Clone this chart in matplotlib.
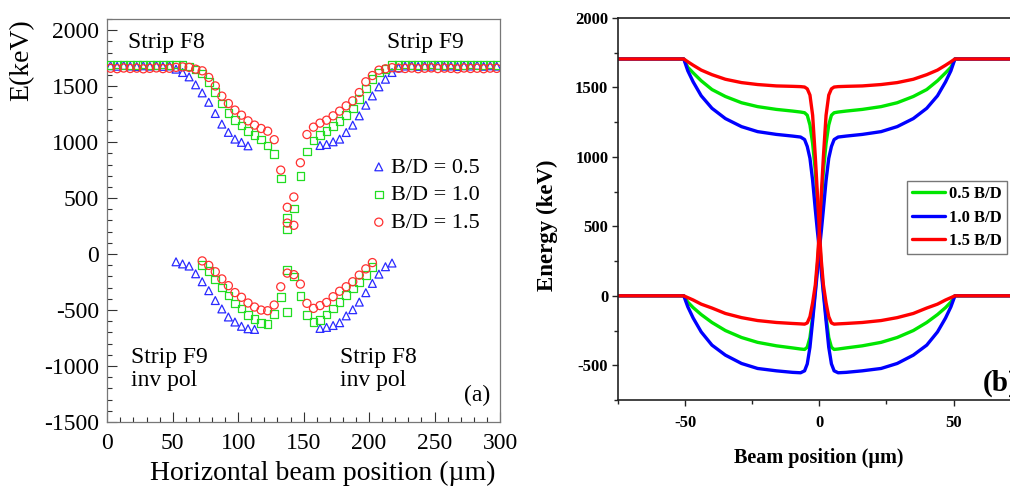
import numpy as np
import matplotlib
matplotlib.use("Agg")
import matplotlib.pyplot as plt
from matplotlib.ticker import MultipleLocator

plt.rcParams["axes.unicode_minus"] = False

# ---------------- panel (a): measured energies, markers every 5 um ----------------
flat_left = [2.5, 7.5, 12.5, 17.5, 22.5, 27.5, 32.5, 37.5, 42.5, 47.5]
flat_right = [227.5, 232.5, 237.5, 242.5, 247.5, 252.5, 257.5, 262.5, 267.5, 272.5,
              277.5, 282.5, 287.5, 292.5, 297.5]

# B/D = 0.5 (blue triangles)
tri_up_x = flat_left + [52.5, 57.5, 62.5, 67.5, 72.5, 77.5, 82.5, 87.5, 92.5, 97.5, 102.5, 107.5,
                        162.5, 167.5, 172.5, 177.5, 182.5, 187.5, 192.5, 197.5, 202.5, 207.5,
                        212.5, 217.5, 222.5] + flat_right
tri_up_y = [1683, 1678, 1685, 1680, 1676, 1682, 1679, 1684, 1677, 1681,
            1652, 1622, 1583, 1512, 1440, 1356, 1256, 1161, 1087, 1027, 998, 967,
            970, 979, 1003, 1027, 1086, 1152, 1235, 1330, 1413, 1494, 1562, 1622, 1664,
            1680, 1684, 1677, 1682, 1679, 1685, 1678, 1681, 1676, 1683, 1680, 1686, 1678, 1682, 1679]
tri_lo_x = [52.5, 57.5, 62.5, 67.5, 72.5, 77.5, 82.5, 87.5, 92.5, 97.5, 102.5, 107.5, 112.5,
            162.5, 167.5, 172.5, 177.5, 182.5, 187.5, 192.5, 197.5, 202.5, 207.5, 212.5, 217.5]
tri_lo_y = [-69, -88, -107, -176, -247, -327, -415, -490, -562, -607, -645, -667, -673,
            -664, -655, -638, -613, -552, -497, -429, -345, -262, -179, -113, -80]

# B/D = 1.0 (green squares)
sq_up_x = flat_left + [52.5, 57.5, 62.5, 67.5, 72.5, 77.5, 82.5, 87.5, 92.5, 97.5, 102.5, 107.5,
                       112.5, 117.5, 122.5, 127.5, 132.5, 137.5, 137.5, 142.5, 147.5, 152.5, 157.5,
                       162.5, 167.5, 172.5, 177.5, 182.5, 187.5, 192.5, 197.5, 202.5, 207.5,
                       212.5, 217.5, 222.5] + flat_right
sq_up_y = [1690, 1693, 1688, 1691, 1689, 1694, 1690, 1687, 1692, 1690,
           1692, 1690, 1675, 1650, 1613, 1539, 1449, 1345, 1262, 1200, 1147, 1101,
           1062, 1025, 970, 893, 675, 325, 220, 408, 697, 915, 1015,
           1062, 1098, 1143, 1188, 1241, 1301, 1384, 1479, 1562, 1622,
           1655, 1687, 1690,
           1692, 1689, 1691, 1688, 1693, 1690, 1687, 1692, 1689, 1691, 1694, 1688, 1690, 1692, 1689]
sq_lo_x = [72.5, 77.5, 82.5, 87.5, 92.5, 97.5, 102.5, 107.5, 112.5, 117.5, 122.5, 127.5, 132.5,
           137.5, 137.5, 142.5, 147.5, 152.5, 157.5, 162.5, 167.5, 172.5, 177.5, 182.5, 187.5,
           192.5, 197.5, 202.5]
sq_lo_y = [-98, -149, -226, -298, -369, -440, -485, -545, -581, -616, -624, -536, -381,
           -140, -515, -202, -375, -545, -608, -589, -539, -485, -426, -366, -307,
           -247, -188, -113]

# B/D = 1.5 (red circles)
ci_up_x = flat_left + [52.5, 57.5, 62.5, 67.5, 72.5, 77.5, 82.5, 87.5, 92.5, 97.5, 102.5, 107.5,
                       112.5, 117.5, 122.5, 127.5, 132.5, 137.5, 137.5, 142.5, 142.5, 147.5, 152.5,
                       157.5, 162.5, 167.5, 172.5, 177.5, 182.5, 187.5, 192.5, 197.5, 202.5,
                       207.5, 212.5, 217.5, 222.5] + flat_right
ci_up_y = [1660, 1656, 1662, 1658, 1661, 1655, 1659, 1663, 1657, 1660,
           1668, 1672, 1668, 1652, 1637, 1578, 1502, 1411, 1345, 1286, 1241, 1190,
           1152, 1122, 1098, 1022, 750, 418, 277, 257, 510, 816, 1068,
           1134, 1170, 1196, 1235, 1277, 1324, 1369, 1443, 1539, 1595,
           1643, 1655, 1665, 1660,
           1658, 1662, 1656, 1660, 1663, 1657, 1661, 1659, 1655, 1662, 1658, 1660, 1656, 1661, 1659]
ci_lo_x = [72.5, 77.5, 82.5, 87.5, 92.5, 97.5, 102.5, 107.5, 112.5, 117.5, 122.5, 127.5, 132.5,
           137.5, 142.5, 147.5, 152.5, 157.5, 162.5, 167.5, 172.5, 177.5, 182.5, 187.5,
           192.5, 197.5, 202.5]
ci_lo_y = [-61, -101, -158, -222, -282, -344, -386, -437, -473, -500, -506, -455, -292,
           -170, -184, -268, -440, -485, -460, -432, -381, -332, -292, -247,
           -188, -132, -76]

# ---------------- panel (b): simulated energies, one half of the strip curve ----------------
pos_half = [-75, -50.5, -49, -47, -44, -40, -35, -29, -23, -16, -10, -7, -5.5, -4.5, -3.5,
            -2.5, -1.5, -0.75, 0]
# upper = strip with signal on the left, lower = same strip at inverse polarity
g_upper = [1705, 1705, 1645, 1605, 1548, 1485, 1435, 1390, 1362, 1342, 1330, 1323, 1318, 1300,
           1230, 1096, 900, 680, 420]
g_lower = [0, 0, -45, -85, -135, -192, -250, -300, -335, -360, -375, -383, -386, -370, -300,
           -150, 40, 210, 420]
b_upper = [1705, 1705, 1620, 1540, 1440, 1350, 1276, 1218, 1182, 1162, 1150, 1143, 1125, 1075,
           990, 830, 620, 470, 330]
b_lower = [0, 0, -79, -160, -260, -355, -427, -487, -523, -540, -551, -554, -540, -490, -370,
           -180, 20, 170, 330]
r_upper = [1705, 1705, 1685, 1660, 1625, 1592, 1559, 1535, 1521, 1511, 1508, 1506, 1503, 1490,
           1445, 1300, 1000, 740, 470]
r_lower = [0, 0, -13, -30, -60, -88, -127, -157, -178, -192, -199, -202, -204, -195, -150,
           -50, 80, 250, 470]
sim_labels = ["0.5 B/D", "1.0 B/D", "1.5 B/D"]
sim_colors = ["#00e600", "#0000ff", "#ff0000"]

serif = ["Liberation Serif", "DejaVu Serif"]
W, H = 1010, 490
fig = plt.figure(figsize=(W / 100, H / 100), dpi=100)

# ---------------- left panel ----------------
axa = fig.add_axes([107.3 / W, 1 - 422 / H, 392.7 / W, 403 / H])
axa.scatter(tri_up_x + tri_lo_x, tri_up_y + tri_lo_y, marker="^", s=32, facecolors="none",
            edgecolors="#2a2aff", linewidths=0.9, label="B/D = 0.5", zorder=3)
axa.scatter(sq_up_x + sq_lo_x, sq_up_y + sq_lo_y, marker="s", s=30, facecolors="none",
            edgecolors="#22dd22", linewidths=0.9, label="B/D = 1.0", zorder=4)
axa.scatter(ci_up_x + ci_lo_x, ci_up_y + ci_lo_y, marker="o", s=34, facecolors="none",
            edgecolors="#ff3030", linewidths=0.9, label="B/D = 1.5", zorder=5)
axa.set_xlim(0, 300)
axa.set_ylim(-1500, 2100)
axa.xaxis.set_major_locator(MultipleLocator(50))
axa.xaxis.set_minor_locator(MultipleLocator(10))
axa.yaxis.set_major_locator(MultipleLocator(500))
axa.yaxis.set_minor_locator(MultipleLocator(100))
axa.tick_params(which="both", direction="in", top=False, right=False, color="#333333",
                width=0.8, labelsize=17)
axa.tick_params(which="major", length=7)
axa.tick_params(which="minor", length=3.6)
axa.tick_params(axis="x", pad=8)
axa.tick_params(axis="y", pad=6)
for lab in axa.get_xticklabels() + axa.get_yticklabels():
    lab.set_family(serif)
for sp in axa.spines.values():
    sp.set_color("#777777")
    sp.set_linewidth(0.9)

txt = dict(family=serif, fontsize=17, va="center", ha="left")
axa.text(15.8, 1893, "Strip F8", **txt)
axa.text(213.5, 1893, "Strip F9", **txt)
axa.text(18, -1027, "Strip F9\ninv pol", linespacing=1.1, **txt)
axa.text(178, -1027, "Strip F8\ninv pol", linespacing=1.1, **txt)
axa.text(272.5, -1259, "(a)", **txt)

leg = axa.legend(loc="upper left", bbox_to_anchor=(361 / W, 1 - 146 / H),
                 bbox_transform=fig.transFigure, frameon=False, borderpad=0,
                 handlelength=0.6, handletextpad=0.25, labelspacing=0.32,
                 prop=dict(family=serif, size=16))
fig.text(22 / W, 1 - 60 / H, "E(keV)", rotation=90, ha="center", va="center",
         family=serif, fontsize=20)
fig.text(323 / W, 1 - 473 / H, "Horizontal beam position (\u00b5m)", ha="center", va="center",
         family=serif, fontsize=20)

# ---------------- right panel ----------------
axb = fig.add_axes([618 / W, 1 - 400 / H, 402.7 / W, 382 / H])
pos_half = np.array(pos_half)
sims = [(g_upper, g_lower), (b_upper, b_lower), (r_upper, r_lower)]
for (up, lo), lab, col in zip(sims, sim_labels, sim_colors):
    up, lo = np.array(up), np.array(lo)
    # strip curve: left half from the upper values, right half mirrors the lower values
    xs = np.concatenate([pos_half, -pos_half[::-1][1:]])
    ys = np.concatenate([up, lo[::-1][1:]])
    axb.plot(xs, ys, color=col, lw=2.4, label=lab, solid_capstyle="round")
    axb.plot(-xs, ys, color=col, lw=2.4, solid_capstyle="round")
axb.set_xlim(-75, 75)
axb.set_ylim(-750, 2000)
axb.xaxis.set_major_locator(MultipleLocator(50))
axb.xaxis.set_minor_locator(MultipleLocator(25))
axb.yaxis.set_major_locator(MultipleLocator(500))
axb.yaxis.set_minor_locator(MultipleLocator(250))
axb.tick_params(which="both", direction="out", color="#222222", width=1.0, labelsize=12)
axb.tick_params(which="major", length=4)
axb.tick_params(which="minor", length=3)
axb.tick_params(axis="x", pad=7)
axb.tick_params(axis="y", pad=3)
for lab in axb.get_xticklabels() + axb.get_yticklabels():
    lab.set_family(serif)
    lab.set_fontweight("bold")
for sp in axb.spines.values():
    sp.set_color("#222222")
    sp.set_linewidth(1.2)

lg = axb.legend(loc="upper left", bbox_to_anchor=(907 / W, 1 - 181 / H),
                bbox_transform=fig.transFigure, fancybox=False, framealpha=1,
                edgecolor="#777777", borderpad=0.3, borderaxespad=0,
                handlelength=2.0, handletextpad=0.2, labelspacing=0.45,
                prop=dict(family=serif, size=12, weight="bold"))
lg.get_frame().set_linewidth(1.0)
# the "(b)" tag runs past the right edge of the figure, as in the original
axb.text(61, -628, "(b)", family=serif, fontsize=21, fontweight="bold", ha="left", va="center")
fig.text(547 / W, 1 - 225 / H, "Energy (keV)", rotation=90, ha="center", va="center",
         family=serif, fontsize=16.5, fontweight="bold")
fig.text(818.5 / W, 1 - 458 / H, "Beam position (\u00b5m)", ha="center", va="center",
         family=serif, fontsize=14.5, fontweight="bold")

fig.savefig("out.png", dpi=100)
